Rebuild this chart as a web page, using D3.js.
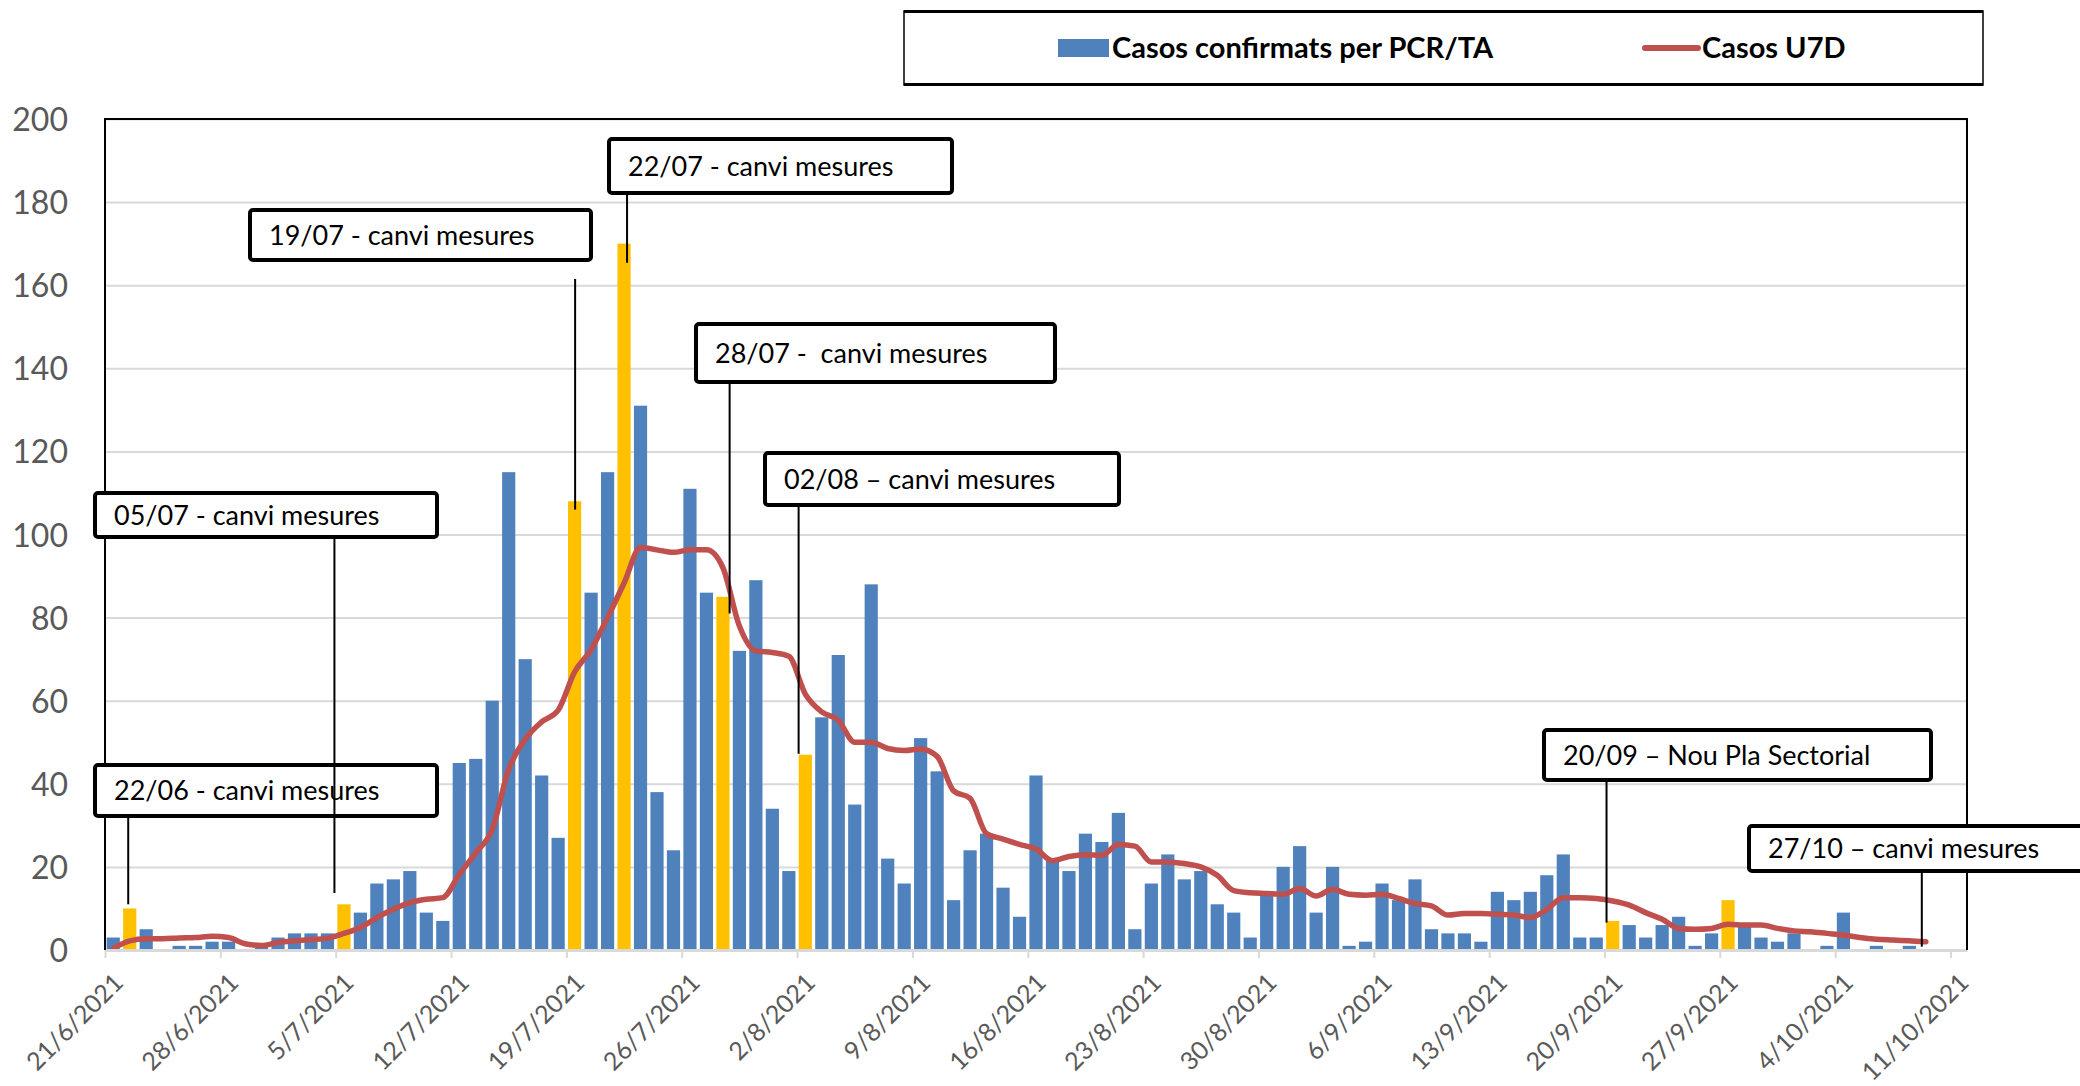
<!DOCTYPE html>
<html lang="ca">
<head>
  <meta charset="UTF-8">
  <title>Casos confirmats per PCR/TA</title>
  <script src="https://cdn.jsdelivr.net/npm/d3@7"></script>
  <style>
    html, body { margin: 0; padding: 0; background: #fff; }
    svg { display: block; font-family: Lato, "Liberation Sans", sans-serif; }
    .axis-label { fill: #595959; }
    .note-box { fill: #fff; stroke: #000; stroke-width: 4; }
    .note-text { font-size: 27px; fill: #000; }
    .note-line { stroke: #000; stroke-width: 2; }
  </style>
</head>
<body>
  <svg id="chart" width="2080" height="1086"></svg>

  <script>
    // one bar per day, starting 21/6/2021
    const startDay = new Date(2021, 5, 21);
    const dayCount = 113;

    const cases = [
      3, 10, 5, 0, 1, 1, 2, 2, 0, 1,
      3, 4, 4, 4, 11, 9, 16, 17, 19, 9,
      7, 45, 46, 60, 115, 70, 42, 27, 108, 86,
      115, 170, 131, 38, 24, 111, 86, 85, 72, 89,
      34, 19, 47, 56, 71, 35, 88, 22, 16, 51,
      43, 12, 24, 28, 15, 8, 42, 22, 19, 28,
      26, 33, 5, 16, 23, 17, 19, 11, 9, 3,
      14, 20, 25, 9, 20, 1, 2, 16, 12, 17,
      5, 4, 4, 2, 14, 12, 14, 18, 23, 3,
      3, 7, 6, 3, 6, 8, 1, 4, 12, 6,
      3, 2, 4, 0, 1, 9, 0, 1, 0, 1,
      0, 0, 0
    ];

    // Casos U7D (stops before the last two days)
    const u7d = [
      0.4, 2.2, 2.7, 2.7, 2.9, 3.0, 3.3, 3.0, 1.5, 1.1,
      1.8, 2.2, 2.5, 2.8, 4.0, 5.4, 7.8, 9.8, 11.4, 12.2,
      12.6, 18.2, 23.4, 29, 43.5, 50.7, 54.9, 57.7, 66.9, 72.3,
      80, 88.3, 96.9, 96.3, 95.7, 96.3, 96.3, 92, 78, 72,
      71.6, 70.7, 61.6, 57.3, 55.3, 50, 50, 48.5, 48, 48.4,
      46.6, 38.3, 36.5, 28, 26.7, 25.4, 24.3, 21.5, 22.5, 22.9,
      22.8, 25.4, 25, 21.2, 21.2, 20.8, 20, 18, 14.3, 13.8,
      13.6, 13.4, 14.8, 13, 14.6, 13.4, 13.2, 13.4, 12.4, 11.2,
      10.6, 8.4, 8.8, 8.8, 8.6, 8.4, 7.8, 9.8, 12.6, 12.6,
      12.4, 11.8, 10.8, 9, 7.4, 5.2, 5, 5.2, 6.2, 6,
      6, 5.2, 4.6, 4.4, 4, 3.6, 3, 2.6, 2.4, 2.2,
      2
    ];

    // days with a change of measures (yellow bars)
    const highlightDays = ['2021-06-22', '2021-07-05', '2021-07-19', '2021-07-22',
                           '2021-07-28', '2021-08-02', '2021-09-20', '2021-09-27'];

    const yTicks = [0, 20, 40, 60, 80, 100, 120, 140, 160, 180, 200];

    const legendLabels = ['Casos confirmats per PCR/TA', 'Casos U7D'];

    // callout boxes: box = [x, y, w, h] in px, line from y1 down to value `end`
    const notes = [
      { text: '22/06 - canvi mesures', day: '2021-06-22', box: [93, 763, 346, 55], dx: -1.5, y1: 818, end: 11 },
      { text: '05/07 - canvi mesures', day: '2021-07-05', box: [93, 491, 346, 48], dx: -9.5, y1: 539, end: 13.7 },
      { text: '19/07 - canvi mesures', day: '2021-07-19', box: [248, 208, 345, 54], dx: 0.5, y1: 279, end: 106 },
      { text: '22/07 - canvi mesures', day: '2021-07-22', box: [607, 137, 347, 58], dx: 3, y1: 195, end: 165.4 },
      { text: '28/07 -  canvi mesures', day: '2021-07-28', box: [694, 322, 363, 62], dx: 6.7, y1: 384, end: 81 },
      { text: '02/08 \u2013 canvi mesures', day: '2021-08-02', box: [763, 451, 358, 56], dx: -6.7, y1: 507, end: 47.2 },
      { text: '20/09 \u2013 Nou Pla Sectorial', day: '2021-09-20', box: [1542, 728, 391, 54], dx: -6.2, y1: 782, end: 6.6 },
      { text: '27/10 \u2013 canvi mesures', day: '2021-10-09', box: [1747, 824, 350, 49], dx: -4, y1: 873, end: 0.8 }
    ];

    const BLUE = '#4F81BD', YELLOW = '#FFC000', RED = '#C0504D';

    const plot = { left: 105, right: 1967, top: 119, bottom: 950 };
    const parseDay = d3.timeParse('%Y-%m-%d');
    const days = d3.timeDay.range(startDay, d3.timeDay.offset(startDay, dayCount));
    const highlight = new Set(highlightDays.map(s => +parseDay(s)));

    const x = d3.scaleTime()
      .domain([startDay, d3.timeDay.offset(startDay, dayCount)])
      .range([plot.left, plot.right]);
    const step = x(days[1]) - x(days[0]);
    const y = d3.scaleLinear().domain([0, 200]).range([plot.bottom, plot.top]);

    const svg = d3.select('#chart');

    // gridlines + y labels
    const yAxis = svg.append('g')
      .attr('transform', `translate(${plot.left},0)`)
      .call(d3.axisLeft(y).tickValues(yTicks).tickSize(-(plot.right - plot.left)).tickPadding(37));
    yAxis.select('.domain').remove();
    yAxis.selectAll('line').attr('stroke', '#d9d9d9').attr('stroke-width', 2);
    yAxis.selectAll('text')
      .attr('class', 'axis-label')
      .attr('font-size', 32)
      .attr('font-family', 'Lato, sans-serif')
      .attr('dy', '0.36em');

    // bars
    svg.append('g').selectAll('rect')
      .data(days.map((d, i) => ({ day: d, value: cases[i] })))
      .join('rect')
      .attr('x', d => x(d.day) + step * 0.1)
      .attr('width', step * 0.8)
      .attr('y', d => y(d.value))
      .attr('height', d => y(0) - y(d.value))
      .attr('fill', d => highlight.has(+d.day) ? YELLOW : BLUE);

    // U7D line
    const line = d3.line()
      .x(d => x(d.day) + step / 2)
      .y(d => y(d.value))
      .curve(d3.curveMonotoneX);
    svg.append('path')
      .datum(u7d.map((v, i) => ({ day: days[i], value: v })))
      .attr('d', line)
      .attr('fill', 'none')
      .attr('stroke', RED)
      .attr('stroke-width', 5.5)
      .attr('stroke-linecap', 'round')
      .attr('stroke-linejoin', 'round');

    // x axis
    const weeks = d3.timeDay.range(startDay, d3.timeDay.offset(startDay, dayCount), 7);
    const xAxis = svg.append('g')
      .attr('transform', `translate(0,${plot.bottom})`)
      .call(d3.axisBottom(x).tickValues(weeks).tickFormat(d3.timeFormat('%-d/%-m/%Y'))
        .tickSize(8).tickSizeOuter(0));
    xAxis.select('.domain').attr('stroke', '#d9d9d9').attr('stroke-width', 3);
    xAxis.selectAll('line').attr('stroke', '#d9d9d9').attr('stroke-width', 2);
    xAxis.selectAll('text')
      .attr('class', 'axis-label')
      .attr('font-size', 25)
      .attr('font-family', 'Lato, sans-serif')
      .attr('text-anchor', 'end')
      .attr('x', 0).attr('y', 0).attr('dy', '0.35em')
      .attr('transform', 'translate(13,28) rotate(-45)');

    // plot frame (left, top, right in black)
    svg.append('path')
      .attr('d', `M${plot.left},${plot.bottom}V${plot.top}H${plot.right}V${plot.bottom}`)
      .attr('fill', 'none')
      .attr('stroke', '#000')
      .attr('stroke-width', 2);

    // callouts
    const noteG = svg.append('g').selectAll('g')
      .data(notes)
      .join('g');
    noteG.append('line')
      .attr('class', 'note-line')
      .attr('x1', d => x(parseDay(d.day)) + step / 2 + d.dx)
      .attr('x2', d => x(parseDay(d.day)) + step / 2 + d.dx)
      .attr('y1', d => d.y1)
      .attr('y2', d => y(d.end));
    noteG.append('rect')
      .attr('class', 'note-box')
      .attr('x', d => d.box[0] + 2)
      .attr('y', d => d.box[1] + 2)
      .attr('width', d => d.box[2] - 4)
      .attr('height', d => d.box[3] - 4)
      .attr('rx', 3);
    noteG.append('text')
      .attr('class', 'note-text')
      .attr('x', d => d.box[0] + 21)
      .attr('y', d => d.box[1] + d.box[3] / 2)
      .attr('dy', '0.37em')
      .style('white-space', 'pre')
      .text(d => d.text);

    // legend
    const legend = svg.append('g');
    legend.append('rect')
      .attr('x', 904).attr('y', 11).attr('width', 1079).attr('height', 74)
      .attr('fill', '#fff').attr('stroke', '#000').attr('stroke-width', 1.5);
    legend.append('path')
      .attr('d', 'M904,11.5H1983M904,84.5H1983')
      .attr('stroke', '#000').attr('stroke-width', 3);
    legend.append('rect')
      .attr('x', 1058).attr('y', 39).attr('width', 51).attr('height', 18)
      .attr('fill', BLUE);
    legend.append('line')
      .attr('x1', 1645).attr('x2', 1698).attr('y1', 48).attr('y2', 48)
      .attr('stroke', RED).attr('stroke-width', 6).attr('stroke-linecap', 'round');
    legend.selectAll('text')
      .data(legendLabels)
      .join('text')
      .attr('x', (d, i) => i === 0 ? 1112 : 1702)
      .attr('y', 58)
      .attr('font-size', 29)
      .attr('font-weight', 'bold')
      .attr('fill', '#000')
      .text(d => d);
  </script>
</body>
</html>
